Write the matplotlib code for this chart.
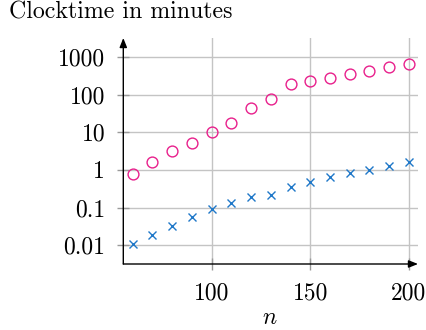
import matplotlib
matplotlib.use("Agg")
import matplotlib.pyplot as plt
from matplotlib.ticker import FixedLocator, FixedFormatter, NullLocator

n_values = [60, 70, 80, 90, 100, 110, 120, 130, 140, 150, 160, 170, 180, 190, 200]
series_a = [0.78, 1.6, 3.2, 5.3, 10, 17, 43, 77, 185, 230, 275, 352, 425, 540, 665]
series_b = [0.0105, 0.019, 0.033, 0.056, 0.094, 0.128, 0.19, 0.22, 0.36, 0.47,
            0.64, 0.82, 1.02, 1.3, 1.66]

x_ticks = [100, 150, 200]
x_tick_labels = ["100", "150", "200"]
y_ticks = [0.01, 0.1, 1, 10, 100, 1000]
y_tick_labels = ["0.01", "0.1", "1", "10", "100", "1000"]

plt.rcParams['font.family'] = ['cmr10', 'DejaVu Serif']
plt.rcParams['mathtext.fontset'] = 'cm'
plt.rcParams['axes.unicode_minus'] = False

W, H = 427, 330
fig = plt.figure(figsize=(W / 100, H / 100), dpi=100)
ax = fig.add_axes([123.3 / W, 1 - 264 / H, (418 - 123.3) / W, (264 - 38) / H])

ax.set_yscale('log')
ax.set_xlim(55.2, 204.6)
ax.set_ylim(10 ** -2.5, 10 ** 3.5)

grid_c = '#c4c4c4'
ax.grid(True, which='major', color=grid_c, lw=1.0)
ax.set_axisbelow(True)

ax.plot(n_values, series_a, linestyle='none', marker='o', markersize=7.8,
        markerfacecolor='none', markeredgecolor='#E8208C', markeredgewidth=1.0,
        clip_on=False, zorder=3)
ax.plot(n_values, series_b, linestyle='none', marker='x', markersize=5.8,
        color='#1F78C8', markeredgewidth=1.0, clip_on=False, zorder=3)

ax.xaxis.set_major_locator(FixedLocator(x_ticks))
ax.xaxis.set_major_formatter(FixedFormatter(x_tick_labels))
ax.yaxis.set_major_locator(FixedLocator(y_ticks))
ax.yaxis.set_major_formatter(FixedFormatter(y_tick_labels))
ax.xaxis.set_minor_locator(NullLocator())
ax.yaxis.set_minor_locator(NullLocator())

ax.tick_params(axis='both', which='major', direction='inout', length=8,
               width=1.0, color='#9a9a9a', labelsize=17, pad=9)

for s in ax.spines.values():
    s.set_visible(False)

arrow = dict(arrowstyle='-|>,head_length=0.55,head_width=0.22', lw=1.0,
             color='black', shrinkA=0, shrinkB=0)
ax.annotate('', xy=(0, 1), xytext=(0, 0), xycoords='axes fraction',
            textcoords='axes fraction', arrowprops=arrow)
ax.annotate('', xy=(1, 0), xytext=(0, 0), xycoords='axes fraction',
            textcoords='axes fraction', arrowprops=arrow)

fig.text(9 / W, 1 - 18.5 / H, 'Clocktime in minutes', fontsize=17.2,
         ha='left', va='baseline')
fig.text(270 / W, 1 - 318 / H, '$n$', fontsize=17, ha='center', va='center')

fig.savefig('out.png', dpi=100)
